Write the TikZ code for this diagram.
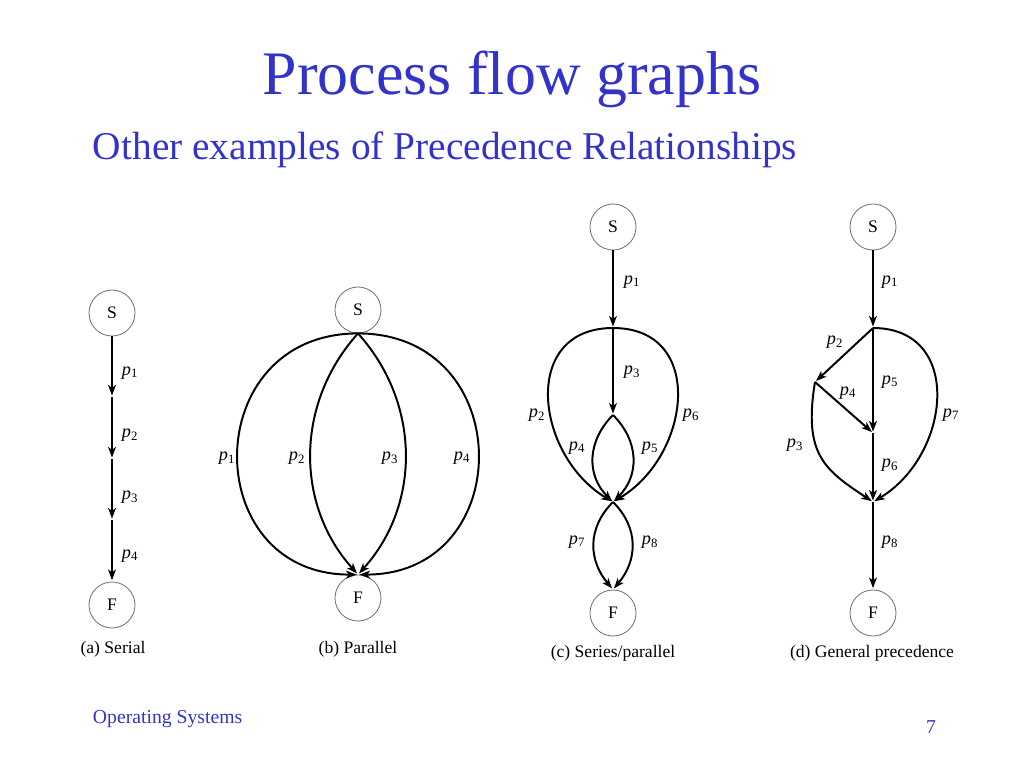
\documentclass[tikz,border=0pt]{standalone}
\usepackage{fontspec}
\setmainfont{Liberation Serif}
\usetikzlibrary{arrows.meta,positioning,calc}
\definecolor{slideblue}{RGB}{51,51,204}
\newcommand{\plabel}[1]{\textit{p}\textsubscript{#1}}

\begin{document}
\begin{tikzpicture}[x=0.025cm,y=0.025cm,>={Stealth[length=7.5pt,width=5.5pt,inset=2pt]},
        procnode/.style={circle,draw=black!55,line width=0.6pt,minimum size=1.15cm,inner sep=0pt,
            font=\fontsize{12.5}{14}\selectfont},
        edgelabel/.style={inner sep=1pt,font=\fontsize{13}{15}\selectfont},
        flow/.style={->,line width=1.4pt,shorten >=1pt},
        caption/.style={anchor=base,font=\fontsize{12.5}{14}\selectfont}]
        \useasboundingbox (0,0) rectangle (1024,-768);
        % 标题
        \node[anchor=base,text=slideblue,font=\fontsize{44}{50}\selectfont] (title) at (512,-95) {Process flow graphs};
        \node[anchor=base west,text=slideblue,font=\fontsize{28}{32}\selectfont] (subtitle) at (88,-160) {Other examples of Precedence Relationships};

        % (a) 串行
        \node[procnode] (aS) at (112,-313) {S};
        \node[procnode] (aF) at (112,-605) {F};
        \coordinate (a1) at (112,-397);
        \coordinate (a2) at (112,-459);
        \coordinate (a3) at (112,-520);
        \draw[flow] (aS) -- (a1);
        \draw[flow] (a1) -- (a2);
        \draw[flow] (a2) -- (a3);
        \draw[flow] (a3) -- (aF);
        \node[edgelabel] (ap1) at (130,-373) {\plabel{1}};
        \node[edgelabel] (ap2) at (130,-435) {\plabel{2}};
        \node[edgelabel] (ap3) at (130,-497) {\plabel{3}};
        \node[edgelabel] (ap4) at (130,-556) {\plabel{4}};
        \node[caption] (acap) at (113,-653) {(a) Serial};

        % (b) 并行
        \node[procnode] (bS) at (358,-310) {S};
        \node[procnode] (bF) at (358,-598) {F};
        \draw[flow] (bS.south) to[out=180,in=180,looseness=1.7] (bF.north);
        \draw[flow] (bS.south) to[out=228,in=132,looseness=1] (bF.north);
        \draw[flow] (bS.south) to[out=-48,in=48,looseness=1] (bF.north);
        \draw[flow] (bS.south) to[out=0,in=0,looseness=1.7] (bF.north);
        \node[edgelabel] (bp1) at (227,-458) {\plabel{1}};
        \node[edgelabel] (bp2) at (297,-458) {\plabel{2}};
        \node[edgelabel] (bp3) at (390,-458) {\plabel{3}};
        \node[edgelabel] (bp4) at (462,-458) {\plabel{4}};
        \node[caption] (bcap) at (358,-653) {(b) Parallel};

        % (c) 串并行
        \node[procnode] (cS) at (613,-227) {S};
        \node[procnode] (cF) at (613,-613) {F};
        \coordinate (cA) at (613,-328);
        \coordinate (cC) at (613,-415);
        \coordinate (cB) at (613,-502);
        \draw[flow] (cS) -- (cA);
        \draw[flow] (cA) -- (cC);
        \draw[flow] (cA) .. controls (520,-328) and (535,-455) .. (cB);
        \draw[flow] (cA) .. controls (706,-328) and (691,-455) .. (cB);
        \draw[flow] (cC) to[out=225,in=135,looseness=1.1] (cB);
        \draw[flow] (cC) to[out=-45,in=45,looseness=1.1] (cB);
        \draw[flow] (cB) to[out=225,in=130,looseness=1.1] (cF.north);
        \draw[flow] (cB) to[out=-45,in=50,looseness=1.1] (cF.north);
        \node[edgelabel] (cp1) at (632,-282) {\plabel{1}};
        \node[edgelabel] (cp2) at (537,-415) {\plabel{2}};
        \node[edgelabel] (cp3) at (632,-372) {\plabel{3}};
        \node[edgelabel] (cp4) at (577,-448) {\plabel{4}};
        \node[edgelabel] (cp5) at (650,-448) {\plabel{5}};
        \node[edgelabel] (cp6) at (691,-415) {\plabel{6}};
        \node[edgelabel] (cp7) at (577,-542) {\plabel{7}};
        \node[edgelabel] (cp8) at (650,-542) {\plabel{8}};
        \node[caption] (ccap) at (613,-657) {(c) Series/parallel};

        % (d) 一般优先关系
        \node[procnode] (dS) at (873,-227) {S};
        \node[procnode] (dF) at (873,-613) {F};
        \coordinate (dA) at (873,-328);
        \coordinate (dE) at (815,-382);
        \coordinate (dD) at (873,-433);
        \coordinate (dB) at (873,-502);
        \draw[flow] (dS) -- (dA);
        \draw[flow] (dA) -- (dE);
        \draw[flow] (dE) -- (dD);
        \draw[flow] (dA) -- (dD);
        \draw[flow] (dD) -- (dB);
        \draw[flow] (dB) -- (dF);
        \draw[flow] (dE) .. controls (803,-455) and (825,-470) .. (dB);
        \draw[flow] (dA) .. controls (964,-328) and (951,-455) .. (dB);
        \node[edgelabel] (dp1) at (890,-282) {\plabel{1}};
        \node[edgelabel] (dp2) at (835,-342) {\plabel{2}};
        \node[edgelabel] (dp3) at (795,-445) {\plabel{3}};
        \node[edgelabel] (dp4) at (848,-393) {\plabel{4}};
        \node[edgelabel] (dp5) at (890,-382) {\plabel{5}};
        \node[edgelabel] (dp6) at (890,-465) {\plabel{6}};
        \node[edgelabel] (dp7) at (951,-415) {\plabel{7}};
        \node[edgelabel] (dp8) at (890,-542) {\plabel{8}};
        \node[caption] (dcap) at (872,-657) {(d) General precedence};

        % 页脚
        \node[anchor=base west,text=slideblue,font=\fontsize{14}{16}\selectfont] (footer) at (88,-723) {Operating Systems};
        \node[anchor=base,text=slideblue,font=\fontsize{14}{16}\selectfont] (pagenum) at (931,-733) {7};
    \end{tikzpicture}
\end{document}
